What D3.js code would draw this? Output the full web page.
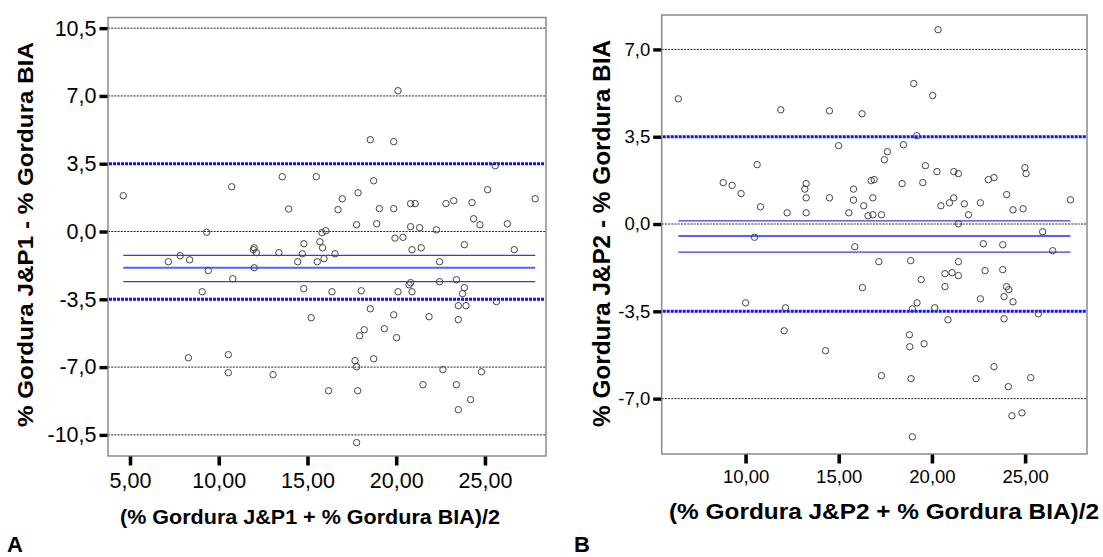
<!DOCTYPE html>
<html><head><meta charset="utf-8">
<script src="https://cdn.jsdelivr.net/npm/d3@7/dist/d3.min.js"></script>
<style>
body{margin:0;background:#fff}
svg{display:block}
text{font-family:"Liberation Sans",Arial,Helvetica,sans-serif;fill:#000}
</style>
</head><body>
<svg id="chart" width="1103" height="557"></svg>
<script>
// ---------- Panel A data (mean of J&P1 and BIA vs difference) ----------
const xA = [4.62,10.73,13.58,15.50,13.94,9.32,20.10,18.54,19.86,25.58,18.73,17.85,16.96,16.72,25.15,27.83,19.05,19.86,20.81,21.07,
22.80,23.24,24.27,24.36,24.72,26.26,17.77,18.90,20.81,21.32,22.27,15.82,16.03,19.93,20.38,15.70,7.16,7.83,8.36,9.41,
9.07,10.79,12.00,11.95,12.12,12.00,13.39,14.80,14.71,14.45,15.55,14.79,15.21,8.29,10.54,10.54,13.06,15.85,15.93,16.55,
16.38,18.03,18.54,20.89,21.41,23.84,26.65,22.44,22.44,20.81,20.72,20.89,20.10,23.39,23.84,23.74,23.50,23.93,23.50,25.65,
21.85,19.86,19.33,20.02,18.20,17.94,17.68,17.77,18.73,16.19,17.83,21.51,22.63,23.39,24.80,24.19,23.50,17.77];
const yA = [1.85,2.31,2.83,2.83,1.16,-0.04,7.27,4.74,4.64,3.40,2.62,2.00,1.69,1.13,2.16,1.69,1.18,1.18,1.44,1.44,
1.44,1.59,1.49,0.66,0.35,0.40,0.35,0.40,0.25,0.20,0.09,-0.06,0.04,-0.34,-0.30,-0.53,-1.56,-1.25,-1.46,-2.02,
-3.11,-2.44,-0.84,-0.94,-1.09,-1.87,-1.09,-0.63,-1.15,-1.56,-1.56,-2.95,-4.45,-6.52,-6.36,-7.29,-7.39,-0.84,-1.40,-1.15,
-3.11,-3.06,-3.99,-0.94,-0.84,-0.68,-0.94,-1.56,-2.59,-2.64,-2.75,-3.11,-3.11,-2.49,-2.90,-3.21,-3.83,-3.83,-4.55,-3.62,
-4.40,-4.30,-5.02,-5.48,-5.07,-5.38,-6.67,-6.98,-6.57,-8.22,-8.22,-7.91,-7.13,-7.91,-7.24,-8.68,-9.20,-10.90];
const limitsA = [3.5, -3.5];
const meanLinesA = [-1.23, -1.87, -2.59];
const gridA = [10.5, 7.0, 0.0, -7.0, -10.5];
const yTicksA = [10.5, 7.0, 3.5, 0.0, -3.5, -7.0, -10.5];
const yTickLabelsA = ["10,5", "7,0", "3,5", "0,0", "-3,5", "-7,0", "-10,5"];
const xTicksA = [5, 10, 15, 20, 25];
const xTickLabelsA = ["5,00", "10,00", "15,00", "20,00", "25,00"];
const xDomainA = [3.76, 28.44];
const yDomainA = [-11.59, 11.05];
const yTitleA = "% Gordura J&P1 - % Gordura BIA";
const xTitleA = "(% Gordura J&P1 + % Gordura BIA)/2";

// ---------- Panel B data (mean of J&P2 and BIA vs difference) ----------
const xB = [6.39,10.62,8.80,9.28,9.76,10.80,20.33,19.02,20.04,11.89,14.50,16.25,19.19,14.99,18.47,17.61,17.45,19.65,20.27,13.25,
13.18,13.25,13.25,12.23,14.50,15.79,15.79,15.54,16.34,16.57,16.83,17.29,16.83,16.74,16.90,18.40,19.51,20.48,10.48,21.17,
21.42,23.03,23.33,24.99,25.05,24.01,21.17,20.94,21.74,22.60,21.96,24.35,24.89,27.43,21.42,25.94,15.86,17.15,18.86,19.42,
16.27,10.00,12.14,19.20,18.95,20.15,12.07,18.79,18.81,19.58,14.29,17.29,18.88,18.95,22.76,23.80,26.48,21.42,20.70,21.08,
21.42,22.85,23.80,20.70,24.00,24.12,23.87,24.35,22.60,20.86,23.87,25.71,23.33,22.37,24.10,25.30,24.29,24.83];
const yB = [5.02,2.38,1.66,1.55,1.22,0.69,7.79,5.63,5.15,4.58,4.54,4.42,3.54,3.14,3.18,2.90,2.58,2.34,2.10,1.62,
1.40,1.05,0.45,0.45,1.05,1.40,0.96,0.45,0.73,0.33,0.37,0.37,1.05,1.74,1.78,1.62,1.66,0.73,-0.53,2.10,
2.02,1.78,1.86,2.26,2.02,1.18,1.05,0.85,0.81,0.85,0.37,0.57,0.61,0.97,0.01,-0.31,-0.91,-1.51,-1.47,-2.23,
-2.55,-3.16,-3.36,-3.16,-3.40,-3.36,-4.28,-4.44,-4.92,-4.80,-5.08,-6.08,-6.20,-8.53,-0.79,-0.83,-1.07,-1.51,-1.99,-1.95,
-2.07,-1.87,-1.83,-2.51,-2.51,-2.63,-2.91,-3.12,-3.00,-3.84,-3.80,-3.60,-5.72,-6.20,-6.52,-6.16,-7.69,-7.57];
const limitsB = [3.5, -3.5];
const meanLinesB = [0.13, -0.48, -1.13];
const gridB = [7.0, 0.0, -7.0];
const yTicksB = [7.0, 3.5, 0.0, -3.5, -7.0];
const yTickLabelsB = ["7,0", "3,5", "0,0", "-3,5", "-7,0"];
const xTicksB = [10, 15, 20, 25];
const xTickLabelsB = ["10,00", "15,00", "20,00", "25,00"];
const xDomainB = [5.50, 28.32];
const yDomainB = [-9.22, 8.38];
const yTitleB = "% Gordura J&P2 - % Gordura BIA";
const xTitleB = "(% Gordura J&P2 + % Gordura BIA)/2";

const svg = d3.select("#chart");

function panel(o) {
  const x = d3.scaleLinear().domain(o.xDomain).range([o.left, o.right]);
  const y = d3.scaleLinear().domain(o.yDomain).range([o.bottom, o.top]);
  const g = svg.append("g");

  // dotted reference lines at tick values
  g.selectAll("line.grid").data(o.grid).join("line")
    .attr("x1", o.left).attr("x2", o.right)
    .attr("y1", d => y(d)).attr("y2", d => y(d))
    .attr("stroke", "#222").attr("stroke-width", 1).attr("stroke-dasharray", "2,1.2");

  // limits of agreement (thick blue dashed)
  g.selectAll("line.lim").data(o.limits).join("line")
    .attr("x1", o.left + 1).attr("x2", o.right - 1)
    .attr("y1", d => y(d)).attr("y2", d => y(d))
    .attr("stroke", "#1010ff").attr("stroke-width", 3).attr("stroke-dasharray", "3,1");

  // mean and CI lines (solid blue), spanning data range
  const xmin = d3.min(o.xs), xmax = d3.max(o.xs);
  g.selectAll("line.mean").data(o.means).join("line")
    .attr("x1", x(xmin)).attr("x2", x(xmax))
    .attr("y1", d => y(d)).attr("y2", d => y(d))
    .attr("stroke", (d, i) => i === 1 ? "#5a5cff" : "#3a3ae0")
    .attr("stroke-width", (d, i) => i === 1 ? 1.8 : 1.3);

  // points
  g.selectAll("circle").data(o.xs.map((v, i) => [v, o.ys[i]])).join("circle")
    .attr("cx", d => x(d[0])).attr("cy", d => y(d[1])).attr("r", 3.2)
    .attr("fill", "none").attr("stroke", "#444").attr("stroke-width", 1);

  // frame
  g.append("rect").attr("x", o.left).attr("y", o.top)
    .attr("width", o.right - o.left).attr("height", o.bottom - o.top)
    .attr("fill", "none").attr("stroke", "#8a8a8a").attr("stroke-width", 1.5);

  // y axis
  const ya = d3.axisLeft(y).tickValues(o.yTicks)
    .tickFormat((d, i) => o.yTickLabels[i]).tickSizeInner(8).tickSizeOuter(0).tickPadding(3);
  const yg = g.append("g").attr("transform", `translate(${o.left - 0.5},0)`).call(ya);
  yg.select(".domain").remove();
  yg.selectAll(".tick line").attr("stroke", "#000").attr("stroke-width", 3.4);
  yg.selectAll(".tick text").attr("font-size", o.tickFont).attr("fill", "#000")
    .attr("font-family", '"Liberation Sans",Arial,sans-serif');

  // x axis
  const xa = d3.axisBottom(x).tickValues(o.xTicks)
    .tickFormat((d, i) => o.xTickLabels[i]).tickSizeInner(9).tickSizeOuter(0).tickPadding(o.xPad);
  const xg = g.append("g").attr("transform", `translate(0,${o.bottom + 0.5})`).call(xa);
  xg.select(".domain").remove();
  xg.selectAll(".tick line").attr("stroke", "#000").attr("stroke-width", 3.6);
  xg.selectAll(".tick text").attr("font-size", o.tickFont).attr("fill", "#000")
    .attr("font-family", '"Liberation Sans",Arial,sans-serif');

  // titles
  g.append("text")
    .attr("transform", `translate(${o.yTitleX},${o.yTitleY}) rotate(-90)`)
    .attr("text-anchor", "middle").attr("font-weight", "bold").attr("font-size", o.yTitleFont)
    .attr("textLength", o.yTitleLen).attr("lengthAdjust", "spacingAndGlyphs")
    .text(o.yTitle);
  g.append("text")
    .attr("x", o.xTitleX).attr("y", o.xTitleY)
    .attr("text-anchor", "middle").attr("font-weight", "bold").attr("font-size", o.xTitleFont)
    .attr("textLength", o.xTitleLen).attr("lengthAdjust", "spacingAndGlyphs")
    .text(o.xTitle);
  g.append("text")
    .attr("x", o.letterX).attr("y", 551.5)
    .attr("font-weight", "bold").attr("font-size", 22)
    .text(o.letter);
}

panel({
  xs: xA, ys: yA, limits: limitsA, means: meanLinesA, grid: gridA,
  yTicks: yTicksA, yTickLabels: yTickLabelsA, xTicks: xTicksA, xTickLabels: xTickLabelsA,
  xDomain: xDomainA, yDomain: yDomainA,
  left: 108, right: 546, top: 17.5, bottom: 456,
  tickFont: 21.5, xPad: 7,
  yTitle: yTitleA, yTitleX: 33, yTitleY: 234.5, yTitleFont: 22, yTitleLen: 385,
  xTitle: xTitleA, xTitleX: 310, xTitleY: 524, xTitleFont: 20, xTitleLen: 380,
  letter: "A", letterX: 7
});

panel({
  xs: xB, ys: yB, limits: limitsB, means: meanLinesB, grid: gridB,
  yTicks: yTicksB, yTickLabels: yTickLabelsB, xTicks: xTicksB, xTickLabels: xTickLabelsB,
  xDomain: xDomainB, yDomain: yDomainB,
  left: 661.7, right: 1087, top: 15, bottom: 454,
  tickFont: 18.5, xPad: 6,
  yTitle: yTitleB, yTitleX: 610, yTitleY: 233.5, yTitleFont: 24.5, yTitleLen: 387,
  xTitle: xTitleB, xTitleX: 884, xTitleY: 519, xTitleFont: 22, xTitleLen: 430,
  letter: "B", letterX: 574
});
</script>
</body></html>
